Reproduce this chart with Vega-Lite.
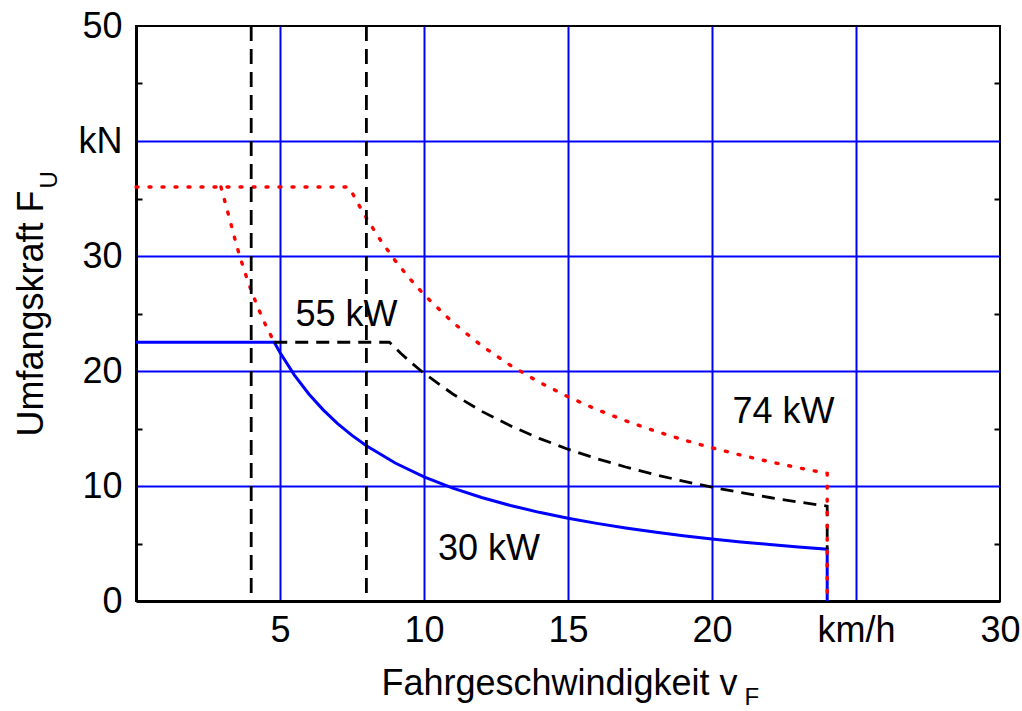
{
  "$schema": "https://vega.github.io/schema/vega-lite/v6.json",
  "width": 864,
  "height": 575,
  "autosize": {"type": "none"},
  "padding": {"left": 136, "top": 26, "right": 22, "bottom": 110},
  "background": "white",
  "config": {
    "font": "Liberation Sans",
    "view": {"stroke": "black", "strokeWidth": 2},
    "axis": {
      "labelFont": "Liberation Sans",
      "titleFont": "Liberation Sans",
      "labelColor": "black",
      "titleColor": "black",
      "titleFontWeight": "normal"
    }
  },
  "datasets": {
    "p30": [
      {"o": 0, "v": 0, "f": 22.5},
      {"o": 1, "v": 4.8, "f": 22.5},
      {"o": 2, "v": 5, "f": 21.6},
      {"o": 3, "v": 5.5, "f": 19.64},
      {"o": 4, "v": 6, "f": 18},
      {"o": 5, "v": 6.5, "f": 16.62},
      {"o": 6, "v": 7, "f": 15.43},
      {"o": 7, "v": 7.5, "f": 14.4},
      {"o": 8, "v": 8, "f": 13.5},
      {"o": 9, "v": 9, "f": 12},
      {"o": 10, "v": 10, "f": 10.8},
      {"o": 11, "v": 11, "f": 9.82},
      {"o": 12, "v": 12, "f": 9},
      {"o": 13, "v": 13, "f": 8.31},
      {"o": 14, "v": 14, "f": 7.71},
      {"o": 15, "v": 15, "f": 7.2},
      {"o": 16, "v": 16, "f": 6.75},
      {"o": 17, "v": 17, "f": 6.35},
      {"o": 18, "v": 18, "f": 6},
      {"o": 19, "v": 19, "f": 5.68},
      {"o": 20, "v": 20, "f": 5.4},
      {"o": 21, "v": 21, "f": 5.14},
      {"o": 22, "v": 22, "f": 4.91},
      {"o": 23, "v": 23, "f": 4.7},
      {"o": 24, "v": 24, "f": 4.5},
      {"o": 25, "v": 24, "f": 0}
    ],
    "p55": [
      {"o": 0, "v": 4.8, "f": 22.5},
      {"o": 1, "v": 8.8, "f": 22.5},
      {"o": 2, "v": 9.2, "f": 21.52},
      {"o": 3, "v": 9.6, "f": 20.63},
      {"o": 4, "v": 10, "f": 19.8},
      {"o": 5, "v": 11, "f": 18},
      {"o": 6, "v": 12, "f": 16.5},
      {"o": 7, "v": 13, "f": 15.23},
      {"o": 8, "v": 14, "f": 14.14},
      {"o": 9, "v": 15, "f": 13.2},
      {"o": 10, "v": 16, "f": 12.38},
      {"o": 11, "v": 17, "f": 11.65},
      {"o": 12, "v": 18, "f": 11},
      {"o": 13, "v": 19, "f": 10.42},
      {"o": 14, "v": 20, "f": 9.9},
      {"o": 15, "v": 21, "f": 9.43},
      {"o": 16, "v": 22, "f": 9},
      {"o": 17, "v": 23, "f": 8.61},
      {"o": 18, "v": 24, "f": 8.25},
      {"o": 19, "v": 24, "f": 4.5}
    ],
    "p74": [
      {"seg": "a", "o": 0, "v": 0, "f": 36},
      {"seg": "a", "o": 1, "v": 7.4, "f": 36},
      {"seg": "a", "o": 2, "v": 7.7, "f": 34.6},
      {"seg": "a", "o": 3, "v": 8, "f": 33.3},
      {"seg": "a", "o": 4, "v": 8.5, "f": 31.34},
      {"seg": "a", "o": 5, "v": 9, "f": 29.6},
      {"seg": "a", "o": 6, "v": 9.5, "f": 28.04},
      {"seg": "a", "o": 7, "v": 10, "f": 26.64},
      {"seg": "a", "o": 8, "v": 11, "f": 24.22},
      {"seg": "a", "o": 9, "v": 12, "f": 22.2},
      {"seg": "a", "o": 10, "v": 13, "f": 20.49},
      {"seg": "a", "o": 11, "v": 14, "f": 19.03},
      {"seg": "a", "o": 12, "v": 15, "f": 17.76},
      {"seg": "a", "o": 13, "v": 16, "f": 16.65},
      {"seg": "a", "o": 14, "v": 17, "f": 15.67},
      {"seg": "a", "o": 15, "v": 18, "f": 14.8},
      {"seg": "a", "o": 16, "v": 19, "f": 14.02},
      {"seg": "a", "o": 17, "v": 20, "f": 13.32},
      {"seg": "a", "o": 18, "v": 21, "f": 12.69},
      {"seg": "a", "o": 19, "v": 22, "f": 12.11},
      {"seg": "a", "o": 20, "v": 23, "f": 11.58},
      {"seg": "a", "o": 21, "v": 24, "f": 11.1},
      {"seg": "a", "o": 22, "v": 24, "f": 0},
      {"seg": "b", "o": 0, "v": 2.95, "f": 36},
      {"seg": "b", "o": 1, "v": 3.25, "f": 33.23},
      {"seg": "b", "o": 2, "v": 3.5, "f": 30.86},
      {"seg": "b", "o": 3, "v": 3.75, "f": 28.8},
      {"seg": "b", "o": 4, "v": 4, "f": 27},
      {"seg": "b", "o": 5, "v": 4.25, "f": 25.41},
      {"seg": "b", "o": 6, "v": 4.5, "f": 24},
      {"seg": "b", "o": 7, "v": 4.8, "f": 22.5}
    ],
    "limits": [{"v": 4}, {"v": 8}],
    "notes": [
      {"t": "55 kW", "v": 7.31, "f": 23.9},
      {"t": "74 kW", "v": 22.48, "f": 15.48},
      {"t": "30 kW", "v": 12.26, "f": 3.57}
    ]
  },
  "resolve": {"axis": {"x": "independent", "y": "independent"}},
  "layer": [
    {
      "data": {"name": "p30"},
      "mark": {"type": "line", "color": "#0000ff", "strokeWidth": 3, "clip": false},
      "encoding": {
        "x": {
          "field": "v",
          "type": "quantitative",
          "scale": {"domain": [0, 30], "nice": false, "zero": false},
          "axis": {
            "orient": "bottom",
            "values": [0, 5, 10, 15, 20, 25, 30],
            "labelExpr": "datum.value == 0 ? '' : datum.value == 25 ? 'km/h' : datum.label",
            "labelFontSize": 36,
            "labelPadding": 12,
            "labelFlush": false,
            "labelOverlap": false,
            "ticks": false,
            "domain": true,
            "domainColor": "black",
            "domainWidth": 3,
            "grid": true,
            "gridColor": "#0000ff",
            "gridWidth": 2,
            "gridOpacity": {"condition": {"test": "datum.value > 0 && datum.value < 30", "value": 1}, "value": 0},
            "title": "Fahrgeschwindigkeit v",
            "titleFontSize": 36,
            "titleX": 423,
            "titleY": 93,
            "titleAlign": "center",
            "titleBaseline": "alphabetic"
          }
        },
        "y": {
          "field": "f",
          "type": "quantitative",
          "scale": {"domain": [0, 50], "nice": false},
          "axis": {
            "orient": "left",
            "values": [0, 10, 20, 30, 40, 50],
            "labelExpr": "datum.value == 40 ? 'kN' : datum.label",
            "labelFontSize": 36,
            "labelPadding": 14,
            "labelFlush": false,
            "labelOverlap": false,
            "ticks": false,
            "domain": true,
            "domainColor": "black",
            "domainWidth": 3,
            "grid": true,
            "gridColor": "#0000ff",
            "gridWidth": 2,
            "gridOpacity": {"condition": {"test": "datum.value > 0 && datum.value < 50", "value": 1}, "value": 0},
            "title": "Umfangskraft F",
            "titleFontSize": 36,
            "titleAngle": -90,
            "titleX": -94,
            "titleY": 287,
            "titleAlign": "center",
            "titleBaseline": "alphabetic"
          }
        },
        "order": {"field": "o", "type": "quantitative"}
      }
    },
    {
      "data": {"name": "p55"},
      "mark": {"type": "line", "color": "black", "strokeWidth": 2.8, "strokeDash": [13, 8]},
      "encoding": {
        "x": {"field": "v", "type": "quantitative", "axis": null},
        "y": {
          "field": "f",
          "type": "quantitative",
          "axis": {
            "orient": "left",
            "offset": -6,
            "values": [5, 15, 25, 35, 45],
            "ticks": true,
            "tickSize": 6,
            "tickWidth": 2,
            "tickColor": "black",
            "labels": false,
            "domain": false,
            "grid": false,
            "title": null
          }
        },
        "order": {"field": "o", "type": "quantitative"}
      }
    },
    {
      "data": {"name": "p74"},
      "mark": {"type": "line", "color": "#ff0000", "strokeWidth": 3.4, "strokeDash": [2, 11], "strokeCap": "round"},
      "encoding": {
        "x": {"field": "v", "type": "quantitative", "axis": null},
        "y": {
          "field": "f",
          "type": "quantitative",
          "axis": {
            "orient": "right",
            "offset": -6,
            "values": [5, 15, 25, 35, 45],
            "ticks": true,
            "tickSize": 6,
            "tickWidth": 2,
            "tickColor": "black",
            "labels": false,
            "domain": false,
            "grid": false,
            "title": null
          }
        },
        "detail": {"field": "seg", "type": "nominal"},
        "order": {"field": "o", "type": "quantitative"}
      }
    },
    {
      "data": {"name": "limits"},
      "mark": {"type": "rule", "color": "black", "strokeWidth": 2.8, "strokeDash": [15, 8]},
      "encoding": {
        "x": {
          "field": "v",
          "type": "quantitative",
          "axis": {
            "orient": "bottom",
            "labels": false,
            "ticks": false,
            "domain": false,
            "grid": false,
            "title": "F",
            "titleFontSize": 24,
            "titleX": 608,
            "titleY": 103,
            "titleAlign": "left",
            "titleBaseline": "alphabetic"
          }
        }
      }
    },
    {
      "data": {"name": "notes"},
      "mark": {"type": "text", "fontSize": 36, "font": "Liberation Sans", "color": "black", "align": "center", "baseline": "alphabetic"},
      "encoding": {
        "x": {"field": "v", "type": "quantitative", "axis": null},
        "y": {
          "field": "f",
          "type": "quantitative",
          "axis": {
            "orient": "left",
            "labels": false,
            "ticks": false,
            "domain": false,
            "grid": false,
            "title": "U",
            "titleFontSize": 24,
            "titleAngle": -90,
            "titleX": -80,
            "titleY": 162,
            "titleAlign": "left",
            "titleBaseline": "alphabetic"
          }
        },
        "text": {"field": "t", "type": "nominal"}
      }
    }
  ]
}
